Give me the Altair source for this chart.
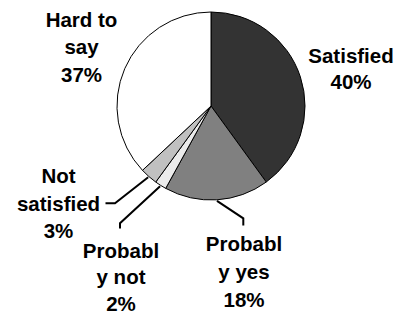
import math
import altair as alt
import pandas as pd

# ---- data ----
categories = ["Satisfied", "Probably yes", "Probably not", "Not satisfied", "Hard to say"]
values = [40, 18, 2, 3, 37]
label_lines = [
    ["Satisfied", "40%"],
    ["Probabl", "y yes", "18%"],
    ["Probabl", "y not", "2%"],
    ["Not", "satisfied", "3%"],
    ["Hard to", "say", "37%"],
]
colors = ["#333333", "#808080", "#ebebeb", "#c0c0c0", "#ffffff"]

# ---- layout (chart pixel coordinates) ----
W, H = 386, 306
OFF = 8
CX, CY, R = 211 - OFF, 106 - OFF, 94
FONT = 20.5
# label anchor: (center x, first baseline y, line height) in image coords
label_anchor = {
    "Satisfied": (351, 62.5, 26.8),
    "Probably yes": (244, 250.8, 28.0),
    "Probably not": (121, 257.5, 26.6),
    "Not satisfied": (58.5, 183.2, 27.3),
    "Hard to say": (81.5, 26.7, 27.5),
}
# leader line elbow and end points, in image coords
leader = {
    "Probably yes": [(243.3, 218.3), (243.3, 225.5)],
    "Probably not": [(120, 223.3), (120, 228.5)],
    "Not satisfied": [(115, 203.3), (105.5, 203.3)],
}

slices = pd.DataFrame({"category": categories, "value": values, "idx": range(len(values))})

total = sum(values)
rows_txt = []
rows_line = []
cum = 0.0
for cat, v, lines in zip(categories, values, label_lines):
    mid = (cum + v / 2) / total * 2 * math.pi
    cum += v
    ax, ay, lh = label_anchor[cat]
    for i, t in enumerate(lines):
        rows_txt.append({"category": cat, "text": t, "x": ax - OFF, "y": ay - OFF + i * lh})
    if cat in leader:
        sx = CX + (R + 1) * math.sin(mid)
        sy = CY - (R + 1) * math.cos(mid)
        pts = [(sx, sy)] + [(px - OFF, py - OFF) for px, py in leader[cat]]
        for j, (px, py) in enumerate(pts):
            rows_line.append({"category": cat, "o": j, "x": px, "y": py})

txt_df = pd.DataFrame(rows_txt)
line_df = pd.DataFrame(rows_line)

pie = alt.Chart(slices).mark_arc(radius=R, stroke="black", strokeWidth=1).encode(
    theta=alt.Theta("value:Q", stack=True),
    color=alt.Color("category:N", scale=alt.Scale(domain=categories, range=colors), legend=None),
    order=alt.Order("idx:Q"),
    x=alt.value(CX),
    y=alt.value(CY),
)

leaders = alt.Chart(line_df).mark_line(color="black", strokeWidth=2).encode(
    x=alt.X("x:Q", scale=None, axis=None),
    y=alt.Y("y:Q", scale=None, axis=None),
    detail="category:N",
    order="o:Q",
)

labels = alt.Chart(txt_df).mark_text(
    font="Liberation Sans", fontWeight="bold", fontSize=FONT,
    align="center", baseline="alphabetic", color="black",
).encode(
    x=alt.X("x:Q", scale=None, axis=None),
    y=alt.Y("y:Q", scale=None, axis=None),
    text="text:N",
)

chart = (
    alt.layer(pie, leaders, labels)
    .properties(width=W, height=H, padding=0, autosize="none", background="white")
    .configure_view(stroke=None)
)

chart.save("out.html", embed_options={"renderer": "svg", "actions": False})
